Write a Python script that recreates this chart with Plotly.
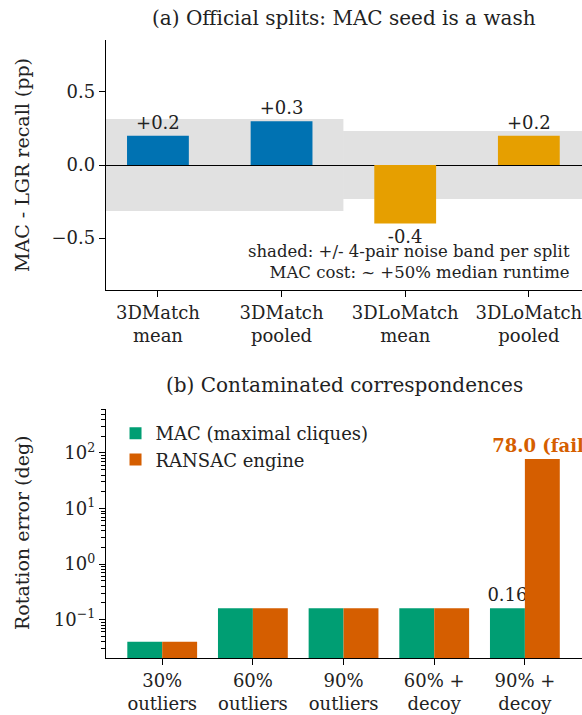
import plotly.graph_objects as go

# ---- Panel (a) data ----
splits = ["3DMatch<br>mean", "3DMatch<br>pooled", "3DLoMatch<br>mean", "3DLoMatch<br>pooled"]
delta_recall = [0.2, 0.3, -0.4, 0.2]
split_colors = ["#0072B2", "#0072B2", "#E69F00", "#E69F00"]
noise_band = [0.315, 0.233]          # +/- half-width per split (3DMatch, 3DLoMatch)
band_first_idx = [0, 2]

# ---- Panel (b) data ----
conditions = ["30%<br>outliers", "60%<br>outliers", "90%<br>outliers", "60% +<br>decoy", "90% +<br>decoy"]
mac_err = [0.04, 0.16, 0.16, 0.16, 0.16]
ransac_err = [0.04, 0.16, 0.16, 0.16, 78.0]
mac_text = ["", "", "", "", "0.16"]
ransac_text = ["", "", "", "", "78.0 (fail)"]
log_tickvals = [0.1, 1, 10, 100]
log_ticktext = ["10<sup>−1</sup>", "10<sup>0</sup>", "10<sup>1</sup>", "10<sup>2</sup>"]

FONT = "DejaVu Serif"
INK = "#222222"
W, H = 582, 715

fig = go.Figure()

xa = list(range(len(splits)))
fig.add_trace(go.Bar(
    x=xa, y=delta_recall, width=0.5, marker=dict(color=split_colors, line=dict(width=0)),
    text=[f"{v:+.1f}" for v in delta_recall], textposition="outside",
    textfont=dict(family=FONT, size=18, color=INK), constraintext="none",
    cliponaxis=False, showlegend=False, xaxis="x", yaxis="y"))

xb = list(range(len(conditions)))
bw = 0.385
fig.add_trace(go.Bar(
    x=xb, y=mac_err, width=bw, offset=-bw, name="MAC (maximal cliques)",
    marker=dict(color="#009E73", line=dict(width=0)),
    text=mac_text, textposition="outside", constraintext="none", cliponaxis=False,
    textfont=dict(family=FONT, size=18, color=INK),
    xaxis="x2", yaxis="y2"))
fig.add_trace(go.Bar(
    x=xb, y=ransac_err, width=bw, offset=0, name="RANSAC engine",
    marker=dict(color="#D55E00", line=dict(width=0)),
    text=ransac_text, textposition="outside", constraintext="none", cliponaxis=False,
    textfont=dict(family=FONT, size=18, color="#D55E00", weight="bold"),
    xaxis="x2", yaxis="y2"))

# noise bands
shapes = []
for i, hw in zip(band_first_idx, noise_band):
    shapes.append(dict(type="rect", xref="x", yref="y", x0=i - 0.5, x1=i + 1.5,
                       y0=-hw, y1=hw, fillcolor="rgba(128,128,128,0.24)",
                       line=dict(width=0), layer="below"))

def py(px):
    return 1 - px / H

axis_common = dict(showline=True, linecolor="black", linewidth=1.3, ticks="outside",
                   ticklen=6, tickwidth=1.3, tickcolor="black", showgrid=False,
                   ticklabeloverflow="allow",
                   tickfont=dict(family=FONT, size=18, color=INK))

fig.update_layout(
    width=W, height=H, margin=dict(l=106, r=0, t=0, b=0),
    plot_bgcolor="white", paper_bgcolor="white", barmode="overlay",
    font=dict(family=FONT, size=18, color=INK),
    shapes=shapes,
    xaxis=dict(domain=[0, 1], anchor="y", range=[-0.42, 3.43], tickvals=xa, ticktext=splits,
               zeroline=False, **axis_common),
    yaxis=dict(domain=[py(290), py(40)], anchor="x", range=[-0.855, 0.855],
               tickvals=[-0.5, 0, 0.5], tickformat=".1f", zeroline=True,
               zerolinecolor="black", zerolinewidth=1.3, **axis_common),
    xaxis2=dict(domain=[0, 1], anchor="y2", range=[-0.62, 4.63], tickvals=xb, ticktext=conditions,
                zeroline=False, **axis_common),
    yaxis2=dict(domain=[py(658), py(409)], anchor="x2", type="log", range=[-1.69, 2.79],
                tickvals=log_tickvals, ticktext=log_ticktext,
                minor=dict(ticks="outside", ticklen=3.5, tickwidth=1, tickcolor="black", dtick="D1"),
                **axis_common),
    legend=dict(x=0.02, y=py(415), xanchor="left", yanchor="top",
                font=dict(family=FONT, size=18, color=INK), bgcolor="rgba(0,0,0,0)"),
    annotations=[
        dict(text="(a) Official splits: MAC seed is a wash", xref="paper", yref="paper",
             x=0.5, y=py(18), xanchor="center", yanchor="middle", showarrow=False,
             font=dict(family=FONT, size=20, color=INK)),
        dict(text="(b) Contaminated correspondences", xref="paper", yref="paper",
             x=0.5, y=py(385), xanchor="center", yanchor="middle", showarrow=False,
             font=dict(family=FONT, size=20, color=INK)),
        dict(text="MAC - LGR recall (pp)", xref="paper", yref="paper", textangle=-90,
             x=(22 - 106) / 476, y=py(165), xanchor="center", yanchor="middle", showarrow=False,
             font=dict(family=FONT, size=19, color=INK)),
        dict(text="Rotation error (deg)", xref="paper", yref="paper", textangle=-90,
             x=(22 - 106) / 476, y=py(533), xanchor="center", yanchor="middle", showarrow=False,
             font=dict(family=FONT, size=19, color=INK)),
        dict(text="shaded: +/- 4-pair noise band per split<br>MAC cost: ~ +50% median runtime",
             xref="paper", yref="paper", x=(572 - 106) / 476, y=py(262), xanchor="right",
             yanchor="middle", align="right", showarrow=False,
             font=dict(family=FONT, size=16.5, color=INK)),
    ],
)

fig.write_html("out.html", config={"displayModeBar": False},
               post_script="document.body.style.margin='0';document.body.style.overflow='hidden';")
